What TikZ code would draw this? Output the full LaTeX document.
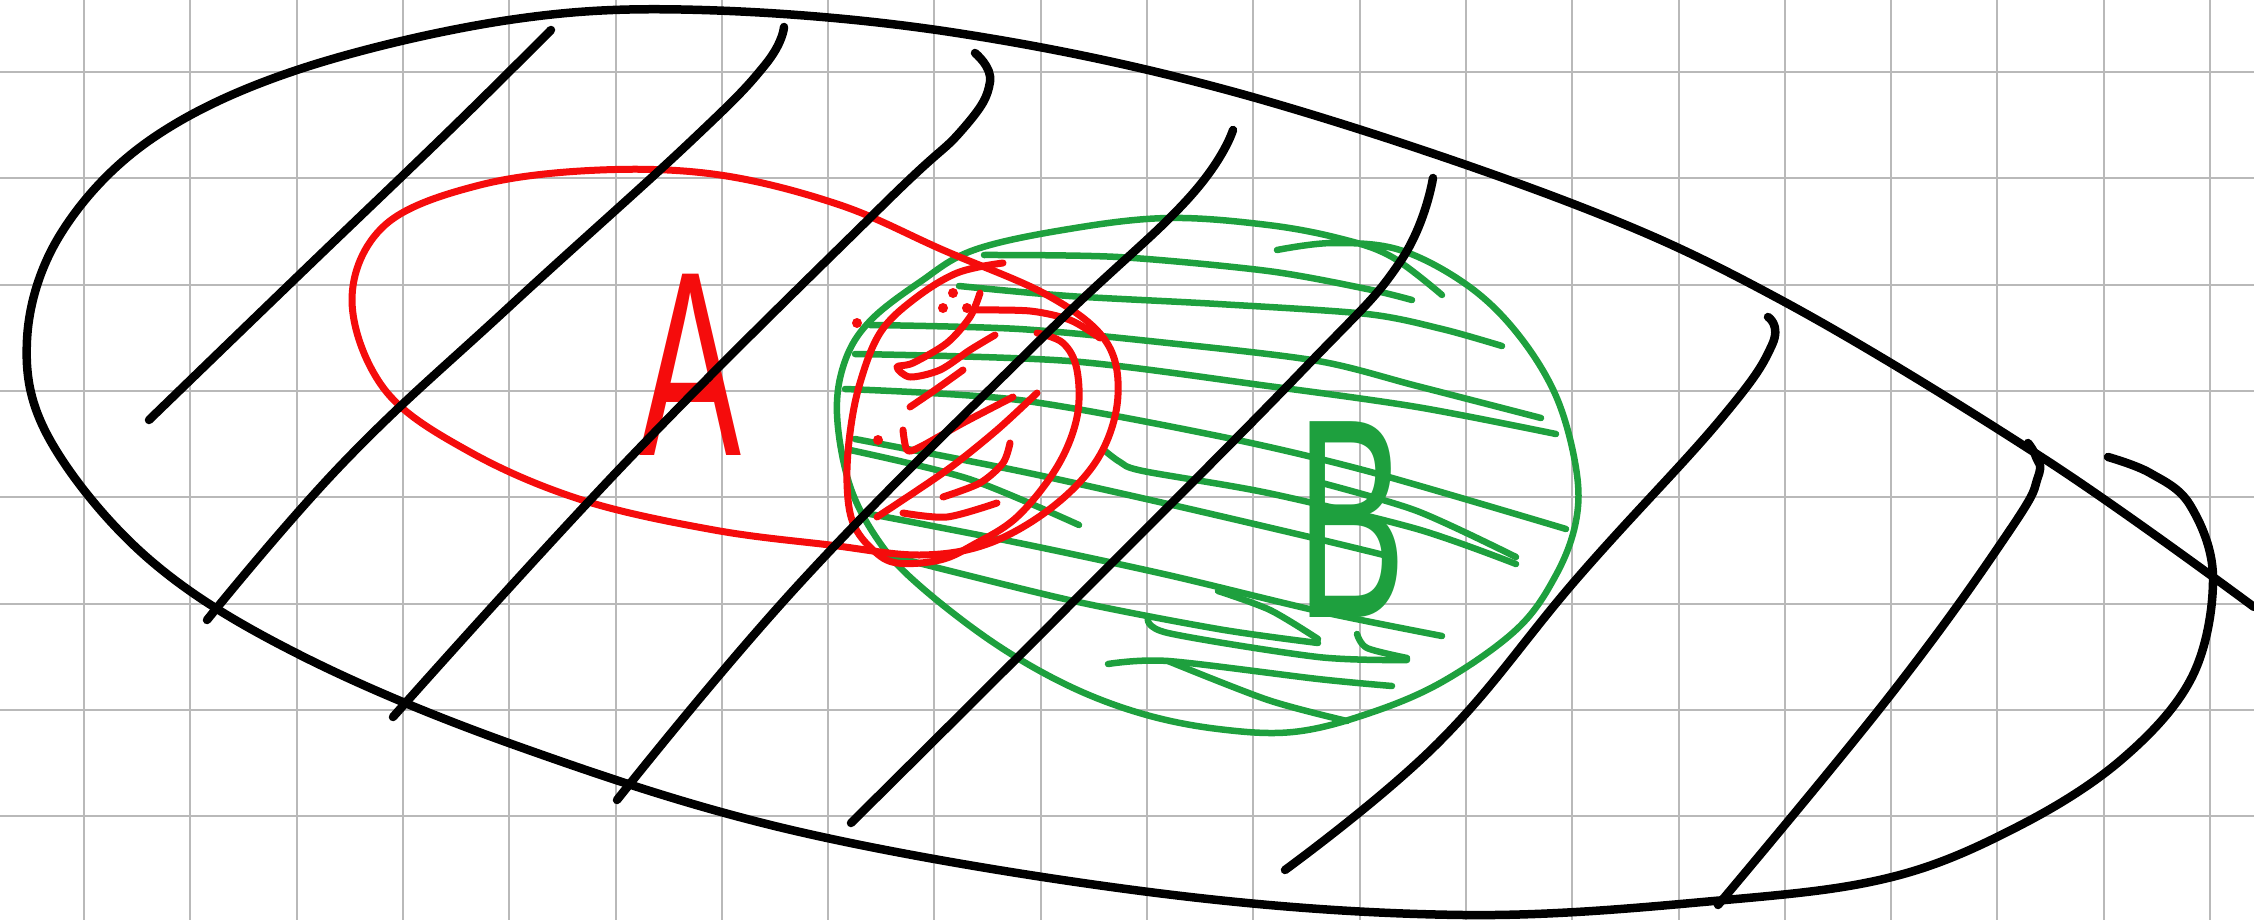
\documentclass[tikz,border=0pt]{standalone}
\usepackage{fontspec}
\newfontfamily\handfont{Liberation Sans}
\definecolor{penred}{RGB}{245,12,12}
\definecolor{pengreen}{RGB}{30,160,62}
\definecolor{gridgray}{RGB}{185,185,185}
\begin{document}
\begin{tikzpicture}[x=0.1mm,y=-0.1mm,
  gridline/.style={draw=gridgray, line width=0.2mm},
  blk/.style={draw=black, line width=0.85mm, line cap=round, line join=round},
  redpen/.style={draw=penred, line width=0.7mm, line cap=round, line join=round},
  grnpen/.style={draw=pengreen, line width=0.65mm, line cap=round, line join=round},
  letter/.style={inner sep=0pt, outer sep=0pt, font=\handfont}]
\useasboundingbox (0,0) rectangle (2254,920);
\fill[white] (0,0) rectangle (2254,920);
% grid
\foreach \k in {0,...,20} \draw[gridline] ({84+106.3*\k},0) -- ({84+106.3*\k},920);
\foreach \k in {0,...,7} \draw[gridline] (0,{72+106.3*\k}) -- (2254,{72+106.3*\k});

% green set B
\draw[grnpen] plot[smooth,tension=0.6] coordinates {(1277,250) (1333,243) (1400,250) (1467,285) (1517,333) (1556,396) (1576,468) (1576,521) (1556,575) (1517,629) (1442,682) (1367,714) (1293,732) (1218,729) (1143,714) (1069,686) (994,643) (920,586) (880,543) (850,486) (837,414) (845,361) (870,321) (920,282) (974,250) (1069,229) (1168,218) (1268,225) (1342,239) (1392,257) (1442,295)};
\draw[grnpen] plot[smooth] coordinates {(984,255) (1118,257) (1268,271) (1367,289) (1412,300)};
\draw[grnpen] plot[smooth] coordinates {(959,286) (1069,296) (1218,304) (1367,314) (1442,329) (1502,346)};
\draw[grnpen] plot[smooth] coordinates {(870,325) (1019,329) (1168,343) (1318,361) (1417,386) (1541,418)};
\draw[grnpen] plot[smooth] coordinates {(855,354) (1069,361) (1268,386) (1417,407) (1556,434)};
\draw[grnpen] plot[smooth] coordinates {(845,389) (1019,400) (1218,436) (1367,471) (1566,529)};
\draw[grnpen] plot[smooth] coordinates {(1104,450) (1120,462) (1143,471) (1268,493) (1417,529) (1516,564)};
\draw[grnpen] plot[smooth] coordinates {(1318,482) (1417,511) (1516,557)};
\draw[grnpen] plot[smooth] coordinates {(855,439) (1019,471) (1168,504) (1318,539) (1392,557)};
\draw[grnpen] plot[smooth] coordinates {(850,450) (969,479) (1079,525)};
\draw[grnpen] plot[smooth] coordinates {(870,514) (1019,543) (1168,575) (1318,611) (1442,636)};
\draw[grnpen] plot[smooth] coordinates {(895,557) (1069,600) (1218,629) (1318,643)};
\draw[grnpen] plot[smooth] coordinates {(1148,618) (1168,633) (1318,657) (1407,660)};
\draw[grnpen] plot[smooth] coordinates {(1108,664) (1168,661) (1318,679) (1392,686)};
\draw[grnpen] plot[smooth] coordinates {(1168,661) (1268,700) (1347,721)};
\draw[grnpen] plot[smooth] coordinates {(1218,591) (1270,610) (1318,639)};
\draw[grnpen] plot[smooth] coordinates {(1357,634) (1367,648) (1407,658)};
\node[letter, text=pengreen, font=\handfont\fontsize{81}{83}\selectfont, xscale=0.58] (B) at (1352,520) {B};

% red set A
\draw[redpen] plot[smooth cycle,tension=0.6] coordinates {(352,300) (385,225) (480,185) (600,170) (720,175) (840,205) (943,250) (1047,295) (1105,340) (1118,395) (1100,455) (1055,505) (990,543) (920,555) (830,545) (714,530) (582,500) (470,452) (385,390)};
\draw[redpen] plot[smooth,tension=0.6] coordinates {(1003,263) (957,273) (913,300) (880,333) (860,383) (850,433) (847,483) (853,523) (873,550) (897,563) (940,560) (973,545) (1017,517) (1057,467) (1077,417) (1077,370) (1063,343) (1037,333)};
\draw[redpen] plot[smooth] coordinates {(973,310) (1030,311) (1070,320) (1100,338)};
\draw[redpen] plot[smooth] coordinates {(980,293) (970,317) (947,343) (913,363) (897,367) (910,377) (940,370) (970,350) (995,335)};
\draw[redpen] plot[smooth] coordinates {(963,370) (935,390) (910,407)};
\draw[redpen] plot[smooth] coordinates {(1013,397) (963,423) (920,447) (907,450) (903,430)};
\draw[redpen] plot[smooth] coordinates {(1037,393) (997,430) (947,470) (877,517)};
\draw[redpen] plot[smooth] coordinates {(1010,443) (1003,463) (980,483) (943,497)};
\draw[redpen] plot[smooth] coordinates {(997,503) (947,517) (903,513)};
\foreach \p in {(953,293),(943,308),(857,323),(878,440),(967,308)} \fill[penred] \p circle (5);
\node[letter, text=penred, font=\handfont\fontsize{75}{77}\selectfont, xscale=0.58] (A) at (690,365) {A};

% black universe outline
\draw[blk] plot[smooth,tension=0.6] coordinates {(2254,607) (2046,460) (1781,300) (1563,200) (1238,93) (957,33) (702,10) (509,20) (297,70) (150,140) (60,235) (27,340) (50,440) (150,560) (300,655) (520,747) (800,832) (1157,893) (1463,915) (1725,900) (1892,877) (2017,827) (2121,760) (2192,677) (2213,577) (2190,505) (2150,473) (2108,457)};
% black hatching
\draw[blk] plot[smooth,tension=0.7] coordinates {(149,420) (297,277) (450,130) (551,30)};
\draw[blk] plot[smooth,tension=0.7] coordinates {(207,620) (344,462) (509,307) (690,142) (765,65) (784,27)};
\draw[blk] plot[smooth,tension=0.7] coordinates {(393,717) (628,460) (881,207) (962,130) (990,82) (975,53)};
\draw[blk] plot[smooth,tension=0.7] coordinates {(617,800) (800,583) (1040,340) (1187,200) (1233,130)};
\draw[blk] plot[smooth,tension=0.7] coordinates {(851,823) (1055,620) (1300,373) (1400,262) (1433,178)};
\draw[blk] plot[smooth,tension=0.7] coordinates {(1285,870) (1438,743) (1580,575) (1720,420) (1772,345) (1768,317)};
\draw[blk] plot[smooth,tension=0.7] coordinates {(1718,905) (1892,693) (2010,530) (2038,477) (2036,457) (2028,443)};
\end{tikzpicture}
\end{document}
